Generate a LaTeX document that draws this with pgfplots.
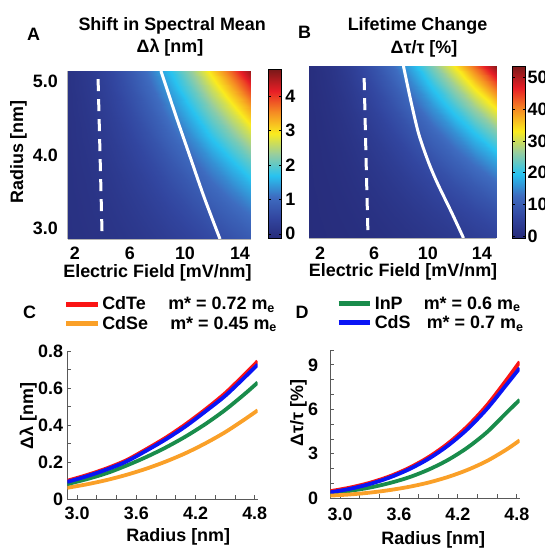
\documentclass[border=0pt]{standalone}
\usepackage{pgfplots}
\pgfplotsset{compat=1.18}
\usepackage{fontspec}
\setmainfont{Liberation Sans}
\newcommand{\fs}{\bfseries\fontsize{18}{21}\selectfont}

\definecolor{cRed}{RGB}{250,20,20}
\definecolor{cBlue}{RGB}{10,20,245}
\definecolor{cGreen}{RGB}{25,140,75}
\definecolor{cOrange}{RGB}{250,160,40}

\pgfplotsset{
  colormap={muted}{rgb255(0cm)=(38,42,120) rgb255(1cm)=(50,70,160) rgb255(2cm)=(62,108,192)
    rgb255(3cm)=(40,195,240) rgb255(4cm)=(150,205,160) rgb255(5cm)=(250,235,30)
    rgb255(6cm)=(245,140,35) rgb255(7cm)=(232,30,38) rgb255(8cm)=(125,25,25)},
  heat/.style={scale only axis, anchor=south west,
    axis x line*=bottom, axis y line*=left,
    axis line style={gray!60, line width=0.6bp, -},
    tick style={draw=none},
    ticklabel style={font=\fs, inner sep=0pt},
    xticklabel style={anchor=north}, yticklabel style={anchor=east},
    colormap name=muted, colorbar,
  },
  curves/.style={scale only axis, anchor=south west,
    axis x line*=bottom, axis y line*=left,
    axis line style={black!65, line width=1bp, -},
    tick align=inside, major tick length=4bp, minor tick length=4bp,
    tick style={black!65, line width=0.8bp},
    ticklabel style={font=\fs, inner sep=0pt},
    xticklabel style={anchor=north}, yticklabel style={anchor=east},
    xmin=2.9, xmax=4.83,
    xtick={3.0,3.6,4.2,4.8}, xticklabels={3.0,3.6,4.2,4.8},
    minor xtick={3.2,3.4,3.8,4.0,4.4,4.6},
    every axis plot/.append style={line width=3.8bp, smooth},
    legend style={draw=none, fill=none, font=\fs, row sep=1bp, inner sep=0bp,
      nodes={inner sep=2bp}},
    legend cell align=left,
    legend image code/.code={\draw[##1, line width=5bp] (0bp,0bp) -- (31.6bp,0bp);},
  },
}

\begin{document}
\begin{tikzpicture}
\path[use as bounding box] (0,0) rectangle (545bp,550bp);

% ---------- A: spectral shift map ----------
\begin{axis}[heat, at={(67.7bp,311bp)}, width=183bp, height=168bp,
  xmin=1.47, xmax=14.78, ymin=2.86, ymax=5.14,
  xtick={2,6,10,14}, xticklabels={2,6,10,14},
  ytick={3,4,5}, yticklabels={3.0,4.0,5.0},
  xticklabel style={yshift=-8bp}, yticklabel style={xshift=-9.7bp},
  point meta min=-0.15, point meta max=4.75,
  colorbar style={at={(parent axis.north east)}, anchor=north west,
    xshift=9.3bp, yshift=1bp, scale only axis, width=13bp, height=169bp,
    ytick={0,1,2,3,4}, yticklabels={0,1,2,3,4},
    yticklabel style={font=\fs, inner sep=0pt, anchor=west, xshift=3.7bp},
    axis line style={black, line width=1bp},
    tick style={black, line width=0.6bp}, major tick length=2.5bp},
]
\addplot[surf, shader=interp, point meta=explicit, mesh/cols=10] table[meta=c] {
x y c
1.47 2.86 0.008
3 2.86 0.033
4.5 2.86 0.074
6 2.86 0.131
7.5 2.86 0.205
9 2.86 0.295
10.5 2.86 0.401
12 2.86 0.524
13.4 2.86 0.654
14.78 2.86 0.795
1.47 3.2 0.011
3 3.2 0.046
4.5 3.2 0.103
6 3.2 0.184
7.5 3.2 0.287
9 3.2 0.413
10.5 3.2 0.562
12 3.2 0.734
13.4 3.2 0.915
14.78 3.2 1.114
1.47 3.55 0.015
3 3.55 0.063
4.5 3.55 0.141
6 3.55 0.251
7.5 3.55 0.391
9 3.55 0.564
10.5 3.55 0.768
12 3.55 1.002
13.4 3.55 1.250
14.78 3.55 1.521
1.47 3.9 0.020
3 3.9 0.083
4.5 3.9 0.187
6 3.9 0.332
7.5 3.9 0.519
9 3.9 0.747
10.5 3.9 1.018
12 3.9 1.329
13.4 3.9 1.657
14.78 3.9 2.016
1.47 4.25 0.026
3 4.25 0.108
4.5 4.25 0.242
6 4.25 0.430
7.5 4.25 0.672
9 4.25 0.967
10.5 4.25 1.317
12 4.25 1.720
13.4 4.25 2.145
14.78 4.25 2.609
1.47 4.6 0.032
3 4.6 0.136
4.5 4.6 0.306
6 4.6 0.545
7.5 4.6 0.852
9 4.6 1.226
10.5 4.6 1.670
12 4.6 2.180
13.4 4.6 2.719
14.78 4.6 3.308
1.47 4.9 0.039
3 4.9 0.165
4.5 4.9 0.370
6 4.9 0.659
7.5 4.9 1.029
9 4.9 1.482
10.5 4.9 2.018
12 4.9 2.635
13.4 4.9 3.286
14.78 4.9 3.998
1.47 5.14 0.045
3 5.14 0.190
4.5 5.14 0.428
6 5.14 0.761
7.5 5.14 1.188
9 5.14 1.711
10.5 5.14 2.330
12 5.14 3.042
13.4 5.14 3.794
14.78 5.14 4.616
};
\addplot[white, line width=3bp, dash pattern=on 12bp off 8bp] coordinates {(3.68,5.03) (3.83,3.95) (3.98,2.86)};
\addplot[white, line width=3bp, smooth] coordinates {(8.255,5.14) (9.273,4.568) (10.327,4.0) (11.382,3.432) (12.545,2.86)};
\end{axis}

% ---------- B: lifetime map ----------
\begin{axis}[heat, at={(309bp,312bp)}, width=187bp, height=172bp,
  xmin=1.18, xmax=15.05, ymin=2.86, ymax=5.14,
  xtick={2,6,10,14}, xticklabels={2,6,10,14},
  ytick=\empty,
  xticklabel style={yshift=-9bp},
  point meta min=-0.7, point meta max=53.4,
  colorbar style={at={(parent axis.north east)}, anchor=north west,
    xshift=8bp, yshift=-0.7bp, scale only axis, width=13bp, height=171.6bp,
    ytick={0,10,20,30,40,50}, yticklabels={0,10,20,30,40,50},
    yticklabel style={font=\fs, inner sep=0pt, anchor=west, xshift=2bp},
    axis line style={black, line width=1bp},
    tick style={black, line width=0.6bp}, major tick length=2.5bp},
]
\addplot[surf, shader=interp, point meta=explicit, mesh/cols=10] table[meta=c] {
x y c
1.18 2.86 0.031
2.7 2.86 0.162
4.2 2.86 0.391
5.8 2.86 0.746
7.3 2.86 1.182
8.9 2.86 1.757
10.4 2.86 2.399
12 2.86 3.194
13.5 2.86 4.042
15.05 2.86 5.023
1.18 3.2 0.048
2.7 3.2 0.253
4.2 3.2 0.613
5.8 3.2 1.169
7.3 3.2 1.853
8.9 3.2 2.753
10.4 3.2 3.759
12 3.2 5.005
13.5 3.2 6.335
15.05 3.2 7.873
1.18 3.55 0.073
2.7 3.55 0.384
4.2 3.55 0.929
5.8 3.55 1.771
7.3 3.55 2.806
8.9 3.55 4.170
10.4 3.55 5.694
12 3.55 7.581
13.5 3.55 9.594
15.05 3.55 11.924
1.18 3.9 0.107
2.7 3.9 0.559
4.2 3.9 1.353
5.8 3.9 2.579
7.3 3.9 4.087
8.9 3.9 6.073
10.4 3.9 8.293
12 3.9 11.042
13.5 3.9 13.975
15.05 3.9 17.368
1.18 4.25 0.151
2.7 4.25 0.789
4.2 4.25 1.909
5.8 4.25 3.639
7.3 4.25 5.766
8.9 4.25 8.568
10.4 4.25 11.700
12 4.25 15.578
13.5 4.25 19.715
15.05 4.25 24.502
1.18 4.6 0.207
2.7 4.6 1.082
4.2 4.6 2.619
5.8 4.6 4.992
7.3 4.6 7.911
8.9 4.6 11.756
10.4 4.6 16.053
12 4.6 21.373
13.5 4.6 27.050
15.05 4.6 33.618
1.18 4.9 0.266
2.7 4.9 1.394
4.2 4.9 3.372
5.8 4.9 6.429
7.3 4.9 10.186
8.9 4.9 15.138
10.4 4.9 20.671
12 4.9 27.522
13.5 4.9 34.832
15.05 4.9 43.290
1.18 5.14 0.323
2.7 5.14 1.687
4.2 5.14 4.083
5.8 5.14 7.784
7.3 5.14 12.334
8.9 5.14 18.329
10.4 5.14 25.029
12 5.14 33.324
13.5 5.14 42.175
15.05 5.14 52.416
};
\addplot[white, line width=3bp, dash pattern=on 12bp off 8bp] coordinates {(5.27,4.98) (5.41,3.92) (5.56,2.86)};
\addplot[white, line width=3bp, smooth] coordinates {(8.184,5.14) (8.719,4.689) (9.298,4.252) (9.981,3.894) (10.664,3.602) (11.777,3.191) (12.638,2.86)};
\end{axis}

% ---------- C: spectral shift vs radius ----------
\begin{axis}[curves, at={(67.3bp,50.7bp)}, width=190.4bp, height=148.3bp,
  ymin=0, ymax=0.8,
  ytick={0,0.2,0.4,0.6,0.8}, yticklabels={0,0.2,0.4,0.6,0.8},
  minor ytick={0.1,0.3,0.5,0.7},
  xticklabel style={yshift=-7.7bp}, yticklabel style={xshift=-4bp},
  legend style={at={(-0.02,1.38)}, anchor=north west},
]
\addplot[cRed] coordinates {(2.9,0.100) (3.1,0.131) (3.3,0.167) (3.5,0.211) (3.7,0.270) (3.9,0.333) (4.1,0.405) (4.3,0.485) (4.5,0.572) (4.7,0.675) (4.83,0.745)};
\addlegendentry{\makebox[66bp][l]{CdTe}m* = 0.72 m\textsubscript{e}}
\addplot[cOrange] coordinates {(2.9,0.062) (3.1,0.081) (3.3,0.104) (3.5,0.132) (3.7,0.165) (3.9,0.204) (4.1,0.249) (4.3,0.302) (4.5,0.362) (4.7,0.432) (4.83,0.480)};
\addlegendentry{\makebox[68bp][l]{CdSe}m* = 0.45 m\textsubscript{e}}
\addplot[cGreen, forget plot] coordinates {(2.9,0.082) (3.1,0.109) (3.3,0.141) (3.5,0.182) (3.7,0.228) (3.9,0.280) (4.1,0.339) (4.3,0.406) (4.5,0.482) (4.7,0.569) (4.83,0.630)};
\addplot[cBlue, forget plot] coordinates {(2.9,0.094) (3.1,0.125) (3.3,0.161) (3.5,0.204) (3.7,0.262) (3.9,0.324) (4.1,0.394) (4.3,0.474) (4.5,0.558) (4.7,0.659) (4.83,0.727)};
\end{axis}

% ---------- D: lifetime change vs radius ----------
\begin{axis}[curves, at={(330.3bp,51.7bp)}, width=189.4bp, height=148.3bp,
  ymin=0, ymax=10,
  ytick={0,3,6,9}, yticklabels={0,3,6,9},
  minor ytick={1,2,4,5,7,8,10},
  xticklabel style={yshift=-9.7bp}, yticklabel style={xshift=-12bp},
  legend style={at={(0.03,1.375)}, anchor=north west},
]
\addplot[cRed, forget plot] coordinates {(2.9,0.48) (3.1,0.72) (3.3,1.04) (3.5,1.47) (3.7,2.04) (3.9,2.77) (4.1,3.70) (4.3,4.87) (4.5,6.30) (4.7,8.02) (4.83,9.20)};
\addplot[cGreen] coordinates {(2.9,0.32) (3.1,0.50) (3.3,0.72) (3.5,1.02) (3.7,1.41) (3.9,1.93) (4.1,2.59) (4.3,3.43) (4.5,4.48) (4.7,5.80) (4.83,6.64)};
\addlegendentry{\makebox[49bp][l]{InP}m* = 0.6 m\textsubscript{e}}
\addplot[cBlue] coordinates {(2.9,0.40) (3.1,0.64) (3.3,0.96) (3.5,1.39) (3.7,1.95) (3.9,2.66) (4.1,3.56) (4.3,4.68) (4.5,6.06) (4.7,7.70) (4.83,8.78)};
\addlegendentry{\makebox[52bp][l]{CdS}m* = 0.7 m\textsubscript{e}}
\addplot[cOrange, forget plot] coordinates {(2.9,0.18) (3.1,0.26) (3.3,0.38) (3.5,0.55) (3.7,0.77) (3.9,1.06) (4.1,1.44) (4.3,1.92) (4.5,2.53) (4.7,3.31) (4.83,3.91)};
\end{axis}

% ---------- titles, panel letters and axis labels ----------
\begin{scope}[every node/.style={font=\fs, inner sep=0pt}]
\node[anchor=base] at (172.2bp,519.3bp) {Shift in Spectral Mean};
\node[anchor=base] at (170bp,497bp) {Δλ [nm]};
\node[anchor=base] at (417.5bp,519bp) {Lifetime Change};
\node[anchor=base] at (424bp,496.7bp) {Δτ/τ [\%]};
\node[anchor=base] at (33.5bp,509.3bp) {A};
\node[anchor=base] at (304.5bp,511.7bp) {B};
\node[anchor=base] at (29.5bp,231.7bp) {C};
\node[anchor=base] at (302bp,231.7bp) {D};
\node[anchor=base] at (157.5bp,272bp) {Electric Field [mV/nm]};
\node[anchor=base] at (403bp,273bp) {Electric Field [mV/nm]};
\node[anchor=base, rotate=90] at (23bp,398bp) {Radius [nm]};
\node[anchor=base, rotate=90] at (33bp,134bp) {Δλ [nm]};
\node[anchor=base, rotate=90] at (303bp,137bp) {Δτ/τ [\%]};
\node[anchor=base] at (178.3bp,9bp) {Radius [nm]};
\node[anchor=base] at (433.3bp,6bp) {Radius [nm]};
\end{scope}
\end{tikzpicture}
\end{document}
